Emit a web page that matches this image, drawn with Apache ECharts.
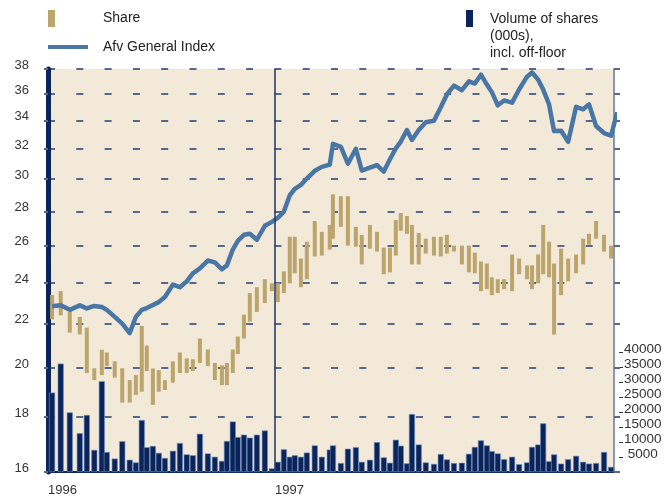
<!DOCTYPE html>
<html>
<head>
<meta charset="utf-8">
<title>Share and Afv General Index</title>
<script src="https://cdn.jsdelivr.net/npm/echarts@6/dist/echarts.min.js"></script>
<style>
html, body { margin: 0; padding: 0; background: #fff; }
#main { width: 671px; height: 497px; }
</style>
</head>
<body>
<div id="main"></div>
<script type="text/javascript">
// week positions, as decimal years
var periods = [
    1996.018, 1996.056, 1996.096, 1996.140, 1996.171, 1996.204, 1996.237, 1996.259, 1996.294, 1996.327,
    1996.360, 1996.387, 1996.413, 1996.435, 1996.462, 1996.488, 1996.515, 1996.550, 1996.581, 1996.611,
    1996.638, 1996.669, 1996.704, 1996.735, 1996.766, 1996.788, 1996.814, 1996.836, 1996.863, 1996.889,
    1996.920, 1996.955, 1996.986, 1997.012, 1997.039, 1997.065, 1997.087, 1997.114, 1997.140, 1997.175,
    1997.206, 1997.241, 1997.255, 1997.290, 1997.321, 1997.356, 1997.382, 1997.418, 1997.449, 1997.479,
    1997.506, 1997.532, 1997.554, 1997.581, 1997.603, 1997.633, 1997.664, 1997.700, 1997.730, 1997.757,
    1997.788, 1997.823, 1997.854, 1997.880, 1997.907, 1997.933, 1997.955, 1997.981, 1998.009, 1998.044,
    1998.075, 1998.110, 1998.132, 1998.159, 1998.181, 1998.207, 1998.229, 1998.260, 1998.291, 1998.326,
    1998.357, 1998.383, 1998.414, 1998.449, 1998.480
];

// share: weekly high / low
var shareHigh = [
    23.40, 23.59, 22.56, 22.32, 21.81, 19.99, 20.80, 20.68, 20.29, 19.99,
    19.49, 19.70, 21.89, 20.99, 19.98, 19.91, 19.49, 20.29, 20.68, 20.42,
    20.38, 21.31, 20.81, 20.22, 20.12, 20.22, 20.81, 21.40, 22.43, 23.49,
    23.79, 24.20, 23.99, 23.99, 24.61, 26.51, 26.51, 25.30, 26.23, 27.42,
    26.79, 27.19, 29.04, 28.92, 28.92, 27.08, 26.62, 27.19, 26.79, 25.90,
    25.90, 27.48, 27.89, 27.72, 27.19, 26.73, 26.40, 26.51, 26.51, 26.62,
    26.01, 26.01, 26.01, 25.62, 25.14, 25.03, 24.30, 24.20, 24.20, 25.52,
    25.30, 24.93, 24.93, 25.52, 27.19, 26.23, 25.03, 25.84, 25.30, 25.52,
    26.40, 26.68, 27.42, 26.62, 26.01
];
var shareLow = [
    22.20, 22.39, 21.58, 21.50, 19.79, 19.49, 19.70, 20.08, 19.59, 18.57,
    18.57, 18.88, 19.01, 19.87, 18.48, 19.01, 19.08, 19.38, 19.79, 19.79,
    19.87, 20.22, 20.08, 19.49, 19.28, 19.28, 19.79, 20.61, 21.31, 22.09,
    22.56, 23.00, 23.59, 23.04, 23.49, 23.99, 24.51, 23.79, 24.20, 25.41,
    25.46, 25.79, 26.40, 27.08, 26.01, 25.95, 24.98, 25.84, 25.68, 24.46,
    24.56, 25.46, 26.85, 26.68, 24.98, 24.98, 25.57, 25.46, 25.41, 25.57,
    25.68, 24.98, 24.56, 24.51, 23.59, 23.69, 23.39, 23.49, 23.69, 23.59,
    24.46, 24.20, 23.69, 23.99, 24.46, 24.30, 21.49, 23.39, 24.09, 24.51,
    24.98, 26.06, 26.40, 25.68, 25.30
];

// Afv General Index (same weeks, plus the last tick at the right edge)
var indexValues = [
    22.84, 22.89, 22.66, 22.88, 22.73, 22.85, 22.80, 22.66, 22.32, 22.00,
    21.56, 22.32, 22.66, 22.75, 22.90, 23.04, 23.29, 23.92, 23.79, 24.09,
    24.51, 24.77, 25.19, 25.09, 24.72, 24.93, 25.79, 26.28, 26.62, 26.68,
    26.34, 27.14, 27.37, 27.60, 27.98, 28.98, 29.38, 29.63, 30.04, 30.54,
    30.80, 30.95, 32.36, 32.15, 31.01, 32.02, 30.56, 30.75, 30.92, 30.49,
    31.31, 32.05, 32.52, 33.33, 32.63, 33.33, 33.90, 34.00, 35.00, 35.98,
    36.67, 36.31, 37.01, 36.83, 37.54, 36.75, 36.16, 35.15, 35.52, 35.35,
    36.36, 37.38, 37.72, 37.14, 36.36, 35.22, 33.26, 33.28, 32.50, 35.04,
    34.85, 35.22, 33.62, 33.12, 32.93
];
var indexLast = [1998.507, 34.63];

// volume of shares (000s), incl. off-floor
var volume = [
    26600, 36300, 19950, 13000, 19100, 7400, 30400, 6700, 4500, 10300,
    4100, 3200, 17400, 8300, 8700, 6400, 4700, 7100, 9700, 5900,
    5600, 12800, 6200, 5100, 3700, 10400, 16900, 11700, 12500, 11500,
    12500, 13900, 1200, 3400, 7600, 5100, 5600, 5100, 6500, 8900,
    5100, 7500, 8900, 3000, 7800, 8300, 3400, 4100, 10000, 4900,
    3100, 10800, 8800, 2900, 19400, 9200, 3200, 2700, 6000, 4200,
    3000, 3100, 6100, 8400, 10600, 8900, 7000, 6200, 4300, 5100,
    2600, 3200, 8400, 9200, 16300, 3600, 5900, 2800, 4300, 5400,
    3400, 2800, 3000, 6700, 1700
];

var priceTicks = [16, 18, 20, 22, 24, 26, 28, 30, 32, 34, 36, 38];
var volumeTicks = [5000, 10000, 15000, 20000, 25000, 30000, 35000, 40000];
var yearTicks = [1996, 1997];

var font = '"Liberation Sans", Arial, sans-serif';
var navy = '#0b2459';
var tan = '#bca56d';
var blue = '#4a76a6';
var grid = '#56688c';

function renderRange(params, api) {
    var hi = api.coord([api.value(0), api.value(2)]);
    var lo = api.coord([api.value(0), api.value(1)]);
    return {
        type: 'rect',
        shape: { x: hi[0] - 2, y: hi[1], width: 4, height: lo[1] - hi[1] },
        style: { fill: tan }
    };
}

var myChart = echarts.init(document.getElementById('main'));
var option = {
    animation: false,
    backgroundColor: '#fff',
    textStyle: { fontFamily: font },
    grid: {
        left: 48, right: 57, top: 69, bottom: 20,
        show: true, backgroundColor: '#f2e9d9', borderWidth: 0
    },
    graphic: [
        { type: 'rect', left: 48, top: 10, shape: { width: 7, height: 17 }, style: { fill: tan } },
        { type: 'text', left: 103, top: 11, style: { text: 'Share', font: '14px ' + font, fill: '#222' } },
        { type: 'rect', left: 48, top: 45, shape: { width: 40, height: 4 }, style: { fill: blue } },
        { type: 'text', left: 103, top: 40, style: { text: 'Afv General Index', font: '14px ' + font, fill: '#222' } },
        { type: 'rect', left: 466, top: 10, shape: { width: 7, height: 17 }, style: { fill: navy } },
        { type: 'text', left: 490, top: 11, style: { text: 'Volume of shares\n(000s),\nincl. off-floor', font: '14px ' + font, lineHeight: 17, fill: '#222' } }
    ],
    xAxis: {
        type: 'value',
        min: 1996,
        max: 1998.493,
        axisLine: { show: true, onZero: false, lineStyle: { color: navy, width: 2 } },
        axisTick: { show: false },
        splitLine: { show: false },
        axisLabel: {
            customValues: yearTicks,
            formatter: function (v) { return String(Math.round(v)); },
            align: 'left', margin: 12, fontSize: 13, color: '#333', fontFamily: font
        }
    },
    yAxis: [
        {
            type: 'log', logBase: 10, min: 16, max: 38, position: 'left',
            axisLine: { show: true, lineStyle: { color: navy, width: 5 } },
            axisTick: { show: true, customValues: priceTicks, length: 4, lineStyle: { color: grid, width: 2 } },
            axisLabel: {
                customValues: priceTicks, margin: 19, fontSize: 13, color: '#333', fontFamily: font,
                verticalAlign: 'bottom', lineHeight: 8
            },
            splitLine: { show: true, lineStyle: { color: grid, width: 2, type: [7, 21.3] } }
        },
        {
            type: 'value', min: 0, max: 135000, position: 'right', offset: 5,
            axisLine: { show: false },
            axisTick: { show: true, customValues: volumeTicks, length: 4, lineStyle: { color: '#333', width: 1 } },
            axisLabel: {
                customValues: volumeTicks, margin: 5, align: 'left', verticalAlign: 'bottom', lineHeight: 6,
                fontSize: 13.5, color: '#333', fontFamily: font,
                formatter: function (v) { return v < 10000 ? ' ' + v : String(v); }
            },
            splitLine: { show: false }
        },
        {
            type: 'log', logBase: 10, min: 16, max: 38, position: 'right', offset: 0,
            axisLine: { show: true, lineStyle: { color: '#8797b3', width: 2 } },
            axisTick: { show: true, customValues: priceTicks, length: 6, lineStyle: { color: grid, width: 2 } },
            axisLabel: { show: false },
            splitLine: { show: false }
        }
    ],
    series: [
        {
            name: 'Volume of shares',
            type: 'bar',
            yAxisIndex: 1,
            barWidth: 6,
            itemStyle: { color: navy, borderColor: '#6d8fc4', borderWidth: 0.6 },
            data: periods.map(function (p, i) { return [p, volume[i]]; }),
            markLine: {
                silent: true, symbol: 'none', label: { show: false },
                lineStyle: { color: '#1e3566', width: 1.5, type: 'solid' },
                data: [{ xAxis: yearTicks[1] }]
            },
            z: 2
        },
        {
            name: 'Share',
            type: 'custom',
            yAxisIndex: 0,
            renderItem: renderRange,
            encode: { x: 0, y: [1, 2] },
            data: periods.map(function (p, i) { return [p, shareLow[i], shareHigh[i]]; }),
            z: 3
        },
        {
            name: 'Afv General Index',
            type: 'line',
            yAxisIndex: 0,
            symbol: 'none',
            showSymbol: false,
            clip: false,
            lineStyle: { color: blue, width: 4.5, join: 'round' },
            data: periods.map(function (p, i) { return [p, indexValues[i]]; }).concat([indexLast]),
            z: 4
        }
    ]
};
myChart.setOption(option); // draw
</script>
</body>
</html>
